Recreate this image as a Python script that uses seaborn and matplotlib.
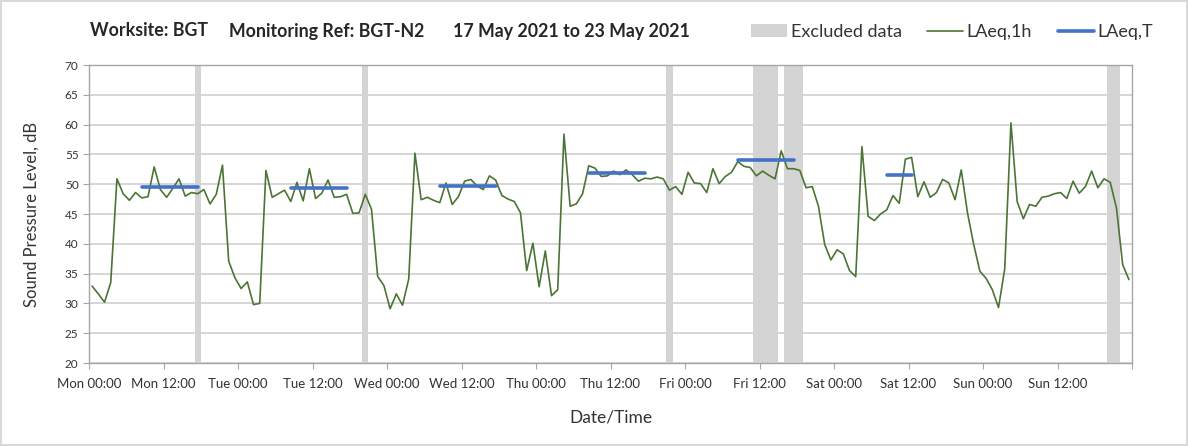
import matplotlib
matplotlib.use("Agg")
import matplotlib.pyplot as plt
from matplotlib.patches import Patch
from matplotlib.lines import Line2D
import seaborn as sns
import pandas as pd
import numpy as np

# hourly LAeq,1h values, Mon 00:00 .. Sun 23:00
laeq_1h = [
    32.9, 31.6, 30.2, 33.5, 50.9, 48.4, 47.3, 48.6, 47.7, 47.9, 52.9, 49.1,
    47.8, 49.3, 50.9, 48.0, 48.6, 48.4, 49.1, 46.7, 48.3, 53.2, 37.1, 34.3,
    32.5, 33.6, 29.8, 30.0, 52.3, 47.8, 48.4, 49.0, 47.1, 50.3, 47.2, 52.6,
    47.6, 48.5, 50.7, 47.8, 47.9, 48.3, 45.1, 45.2, 48.3, 45.8, 34.5, 33.0,
    29.1, 31.6, 29.7, 34.1, 55.2, 47.4, 47.8, 47.3, 46.9, 50.2, 46.6, 47.9,
    50.5, 50.8, 49.7, 49.1, 51.4, 50.7, 48.1, 47.5, 47.1, 45.2, 35.5, 40.1,
    32.8, 38.8, 31.3, 32.3, 58.4, 46.3, 46.7, 48.4, 53.1, 52.7, 51.3, 51.4,
    52.2, 51.6, 52.4, 51.6, 50.5, 51.0, 50.9, 51.2, 50.9, 49.0, 49.6, 48.3,
    52.0, 50.2, 50.1, 48.6, 52.6, 50.1, 51.3, 52.0, 53.8, 53.0, 52.8, 51.4,
    52.2, 51.5, 50.9, 55.6, 52.6, 52.6, 52.3, 49.4, 49.6, 46.3, 39.9, 37.3,
    39.0, 38.3, 35.5, 34.5, 56.3, 44.6, 43.9, 45.0, 45.7, 48.1, 46.8, 54.2,
    54.5, 47.9, 50.4, 47.8, 48.6, 50.8, 50.2, 47.4, 52.4, 45.2, 39.9, 35.4,
    34.2, 32.3, 29.3, 35.8, 60.3, 47.1, 44.2, 46.6, 46.3, 47.8, 48.0, 48.4,
    48.6, 47.6, 50.5, 48.5, 49.6, 52.2, 49.4, 50.9, 50.3, 46.0, 36.5, 34.0,
]

# LAeq,T periods (hours from Mon 00:00)
laeqt_start = [8, 32, 56, 80, 104, 128]
laeqt_end = [18, 42, 66, 90, 114, 133]
laeqt_value = [49.6, 49.3, 49.7, 51.9, 54.0, 51.5]

# excluded data periods (hours from Mon 00:00)
excl_start = [17, 44, 93, 107, 112, 164]
excl_end = [18, 45, 94, 111, 115, 166]

tick_labels = ["Mon 00:00", "Mon 12:00", "Tue 00:00", "Tue 12:00", "Wed 00:00",
               "Wed 12:00", "Thu 00:00", "Thu 12:00", "Fri 00:00", "Fri 12:00",
               "Sat 00:00", "Sat 12:00", "Sun 00:00", "Sun 12:00", ""]

GREEN = "#4b7536"
BLUE = "#4472c4"
GREY = "#d4d4d4"

sns.set_style("white")
plt.rcParams["font.family"] = ["Lato", "DejaVu Sans"]

df = pd.DataFrame({"hour": np.arange(len(laeq_1h)) + 0.5, "level": laeq_1h})

rows = []
for i, (s, e, v) in enumerate(zip(laeqt_start, laeqt_end, laeqt_value)):
    for h in range(s, e):
        rows.append({"period": i, "hour": h + 0.5, "level": v})
dft = pd.DataFrame(rows)

fig = plt.figure(figsize=(11.88, 4.46), dpi=100)
ax = fig.add_axes([89 / 1188, 1 - 363 / 446, (1132 - 89) / 1188, (363 - 65) / 446])

for s, e in zip(excl_start, excl_end):
    ax.axvspan(s, e, color=GREY, lw=0, zorder=1)

sns.lineplot(data=df, x="hour", y="level", color=GREEN, lw=1.2, ax=ax, zorder=3)
sns.lineplot(data=dft, x="hour", y="level", units="period", estimator=None,
             color=BLUE, lw=2.6, ax=ax, zorder=4)

ax.set_xlim(0, 168)
ax.set_ylim(20, 70)
ax.set_xticks(np.arange(0, 169, 12))
ax.set_xticklabels(tick_labels, fontsize=9.5, color="#333333")
ax.set_xticks(np.arange(0, 169, 24), minor=True)
ax.set_yticks(np.arange(20, 71, 5))
ax.tick_params(axis="y", labelsize=8.5, colors="#333333", length=4, direction="out", left=True, color="#a6a6a6")
ax.tick_params(axis="x", which="major", length=4, pad=7, direction="out", bottom=True, color="#a6a6a6")
ax.tick_params(axis="x", which="minor", length=0)
ax.grid(axis="y", which="major", color="#d0d0d0", lw=1.2)
ax.grid(axis="x", which="minor", color="#e2e2e2", lw=1.2)
ax.grid(axis="x", which="major", visible=False)
ax.set_axisbelow(True)
for sp in ax.spines.values():
    sp.set_color("#a6a6a6")
    sp.set_linewidth(1.0)

ax.set_xlabel("Date/Time", fontsize=12.5, color="#333333", labelpad=14)
ax.set_ylabel("Sound Pressure Level, dB", fontsize=12, color="#333333", labelpad=18)

fig.text(90 / 1188, 1 - 31 / 446, "Worksite: BGT", fontsize=12.8, fontweight="bold", va="center", ha="left")
fig.text(229 / 1188, 1 - 31 / 446, "Monitoring Ref: BGT-N2", fontsize=12.8, fontweight="bold", va="center", ha="left")
fig.text(453 / 1188, 1 - 31 / 446, "17 May 2021 to 23 May 2021", fontsize=12.8, fontweight="bold", va="center", ha="left")

handles = [Patch(facecolor=GREY, edgecolor="none"),
           Line2D([0], [0], color=GREEN, lw=1.2),
           Line2D([0], [0], color=BLUE, lw=2.6)]
fig.legend(handles, ["Excluded data", "LAeq,1h", "LAeq,T"], ncol=3, frameon=False,
           loc="center", bbox_to_anchor=(952 / 1188, 1 - 32 / 446), fontsize=13,
           handlelength=2.0, handletextpad=0.2, columnspacing=1.4, labelcolor="#333333")

fig.patch.set_edgecolor("#d9d9d9")
fig.patch.set_linewidth(1.5)
fig.savefig("out.png", dpi=100, edgecolor=fig.get_edgecolor())
